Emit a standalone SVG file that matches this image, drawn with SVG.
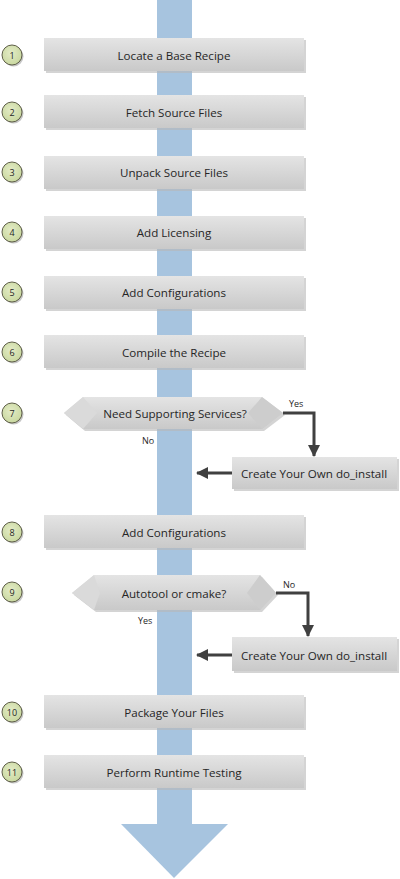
<svg xmlns="http://www.w3.org/2000/svg" width="400" height="879" viewBox="0 0 400 879">
<defs>
<linearGradient id="gBox" x1="0" y1="0" x2="0" y2="1">
<stop offset="0" stop-color="#e4e4e4"/>
<stop offset="1" stop-color="#c9c9c9"/>
</linearGradient>
<radialGradient id="gCirc" cx="0.45" cy="0.4" r="0.7">
<stop offset="0" stop-color="#e3ebc6"/>
<stop offset="1" stop-color="#c5d59a"/>
</radialGradient>
<marker id="ah" markerWidth="12" markerHeight="12" viewBox="0 0 12 12" refX="11" refY="6" orient="auto" markerUnits="userSpaceOnUse">
<path d="M0,0 L12,6 L0,12 Z" fill="#404040"/>
</marker>
</defs>
<style>
.box{fill:url(#gBox);}
.sh{fill:#b8b8b8;opacity:0.6;}
.lbl{font-family:"Open Sans","Liberation Sans",sans-serif;font-size:11.6px;fill:#262626;text-anchor:middle;dominant-baseline:central;}
.sm{font-family:"Open Sans","Liberation Sans",sans-serif;font-size:9px;fill:#262626;}
.num{font-family:"Open Sans","Liberation Sans",sans-serif;font-size:9px;fill:#262626;text-anchor:middle;dominant-baseline:central;}
.circ{fill:url(#gCirc);stroke:#5e5e48;stroke-width:1;}
.csh{fill:#a0a0a0;opacity:0.6;}
.conn{fill:none;stroke:#404040;stroke-width:3;}
.bevL{fill:#dadada;}
.bevD{fill:#cdcdcd;}
</style>
<g id="flow">
<rect x="157" y="0" width="35" height="825" fill="#a7c4df"/>
<polygon points="121,824 228,824 174,878" fill="#a7c4df"/>
</g>

<g id="n1"><circle class="csh" cx="13.5" cy="56.5" r="10"/><circle class="circ" cx="12" cy="55" r="10"/><text class="num" x="12" y="55">1</text>
<rect class="sh" x="46" y="40" width="260" height="33"/><rect class="box" x="44" y="38" width="260" height="33"/><text class="lbl" x="174" y="55">Locate a Base Recipe</text></g>

<g id="n2"><circle class="csh" cx="13.5" cy="113.5" r="10"/><circle class="circ" cx="12" cy="112" r="10"/><text class="num" x="12" y="112">2</text>
<rect class="sh" x="46" y="97" width="260" height="33"/><rect class="box" x="44" y="95" width="260" height="33"/><text class="lbl" x="174" y="112">Fetch Source Files</text></g>

<g id="n3"><circle class="csh" cx="13.5" cy="173.5" r="10"/><circle class="circ" cx="12" cy="172" r="10"/><text class="num" x="12" y="172">3</text>
<rect class="sh" x="46" y="158" width="260" height="33"/><rect class="box" x="44" y="156" width="260" height="33"/><text class="lbl" x="174" y="172.5">Unpack Source Files</text></g>

<g id="n4"><circle class="csh" cx="13.5" cy="233.5" r="10"/><circle class="circ" cx="12" cy="232" r="10"/><text class="num" x="12" y="232">4</text>
<rect class="sh" x="46" y="218" width="260" height="33"/><rect class="box" x="44" y="216" width="260" height="33"/><text class="lbl" x="174" y="232.5">Add Licensing</text></g>

<g id="n5"><circle class="csh" cx="13.5" cy="293.5" r="10"/><circle class="circ" cx="12" cy="292" r="10"/><text class="num" x="12" y="292">5</text>
<rect class="sh" x="46" y="278" width="260" height="33"/><rect class="box" x="44" y="276" width="260" height="33"/><text class="lbl" x="174" y="292.5">Add Configurations</text></g>

<g id="n6"><circle class="csh" cx="13.5" cy="353.5" r="10"/><circle class="circ" cx="12" cy="352" r="10"/><text class="num" x="12" y="352">6</text>
<rect class="sh" x="46" y="337" width="260" height="33"/><rect class="box" x="44" y="335" width="260" height="33"/><text class="lbl" x="174" y="352">Compile the Recipe</text></g>

<g id="n7"><circle class="csh" cx="13.5" cy="414.5" r="10"/><circle class="circ" cx="12" cy="413" r="10"/><text class="num" x="12" y="413">7</text>
<polygon class="sh" points="66,415 85,399 264,399 285,415 264,431 85,431"/>
<polygon class="box" points="64,413 83,397 262,397 283,413 262,429 83,429"/>
<polygon class="bevL" points="64,413 83,397 97,413 83,429"/>
<polygon class="bevD" points="283,413 262,397 248,413 262,429"/>
<text class="lbl" x="175" y="413">Need Supporting Services?</text></g>

<g id="n7b"><rect class="sh" x="234" y="459" width="165" height="32"/><rect class="box" x="232" y="457" width="165" height="32"/><text class="lbl" x="314" y="473">Create Your Own do_install</text></g>

<g id="n8"><circle class="csh" cx="13.5" cy="533.5" r="10"/><circle class="circ" cx="12" cy="532" r="10"/><text class="num" x="12" y="532">8</text>
<rect class="sh" x="46" y="517" width="260" height="33"/><rect class="box" x="44" y="515" width="260" height="33"/><text class="lbl" x="174" y="532">Add Configurations</text></g>

<g id="n9"><circle class="csh" cx="13.5" cy="593.5" r="10"/><circle class="circ" cx="12" cy="592" r="10"/><text class="num" x="12" y="592">9</text>
<polygon class="sh" points="74,595 96,577 262,577 278,595 262,612 96,612"/>
<polygon class="box" points="72,593 94,575 260,575 276,593 260,610 94,610"/>
<polygon class="bevL" points="72,593 94,575 100,593 94,610"/>
<polygon class="bevD" points="276,593 260,575 247,593 260,610"/>
<text class="lbl" x="174" y="593">Autotool or cmake?</text></g>

<g id="n9b"><rect class="sh" x="234" y="639" width="165" height="34"/><rect class="box" x="232" y="637" width="165" height="34"/><text class="lbl" x="314" y="655">Create Your Own do_install</text></g>

<g id="n10"><circle class="csh" cx="13.5" cy="713.5" r="10"/><circle class="circ" cx="12" cy="712" r="10"/><text class="num" x="12" y="712">10</text>
<rect class="sh" x="46" y="697" width="260" height="33"/><rect class="box" x="44" y="695" width="260" height="33"/><text class="lbl" x="174" y="712">Package Your Files</text></g>

<g id="n11"><circle class="csh" cx="13.5" cy="773.5" r="10"/><circle class="circ" cx="12" cy="772" r="10"/><text class="num" x="12" y="772">11</text>
<rect class="sh" x="46" y="757" width="260" height="33"/><rect class="box" x="44" y="755" width="260" height="33"/><text class="lbl" x="174" y="772">Perform Runtime Testing</text></g>

<g id="connectors">
<path class="conn" d="M283,413 H314 V456" marker-end="url(#ah)"/>
<path class="conn" d="M232,473 H197" marker-end="url(#ah)"/>
<path class="conn" d="M276,593 H308 V636" marker-end="url(#ah)"/>
<path class="conn" d="M232,655 H197" marker-end="url(#ah)"/>
<text class="sm" x="289" y="407">Yes</text>
<text class="sm" x="142" y="444">No</text>
<text class="sm" x="283" y="588">No</text>
<text class="sm" x="138" y="624">Yes</text>
</g>
</svg>
